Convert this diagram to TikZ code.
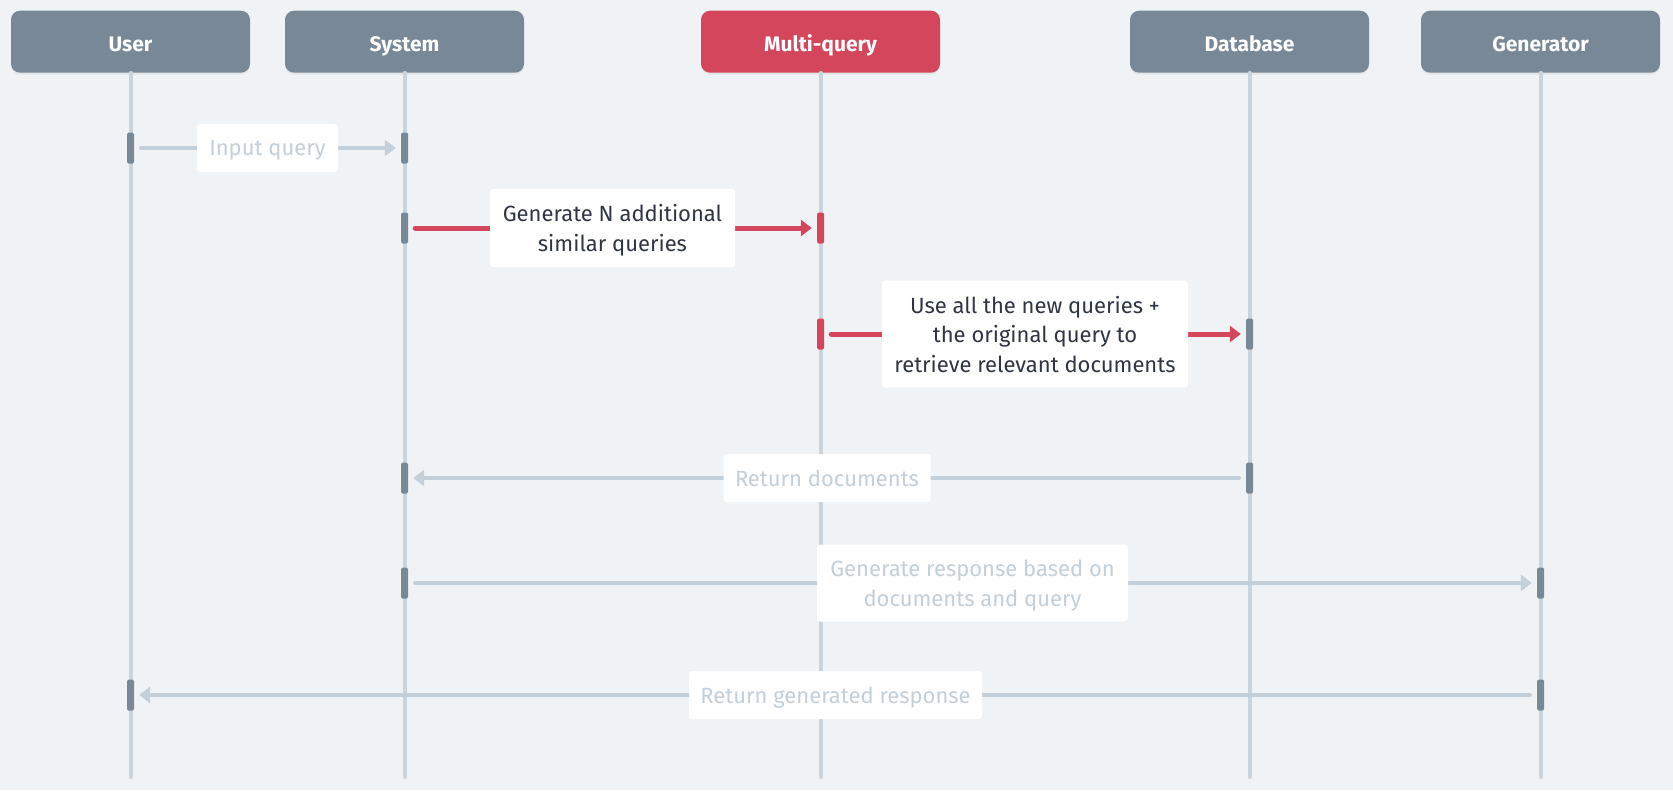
\documentclass[tikz,border=0pt]{standalone}
\usepackage{fontspec}
\setmainfont{Fira Sans}
\usetikzlibrary{arrows.meta,shadows}
\definecolor{bgc}{HTML}{F0F3F6}
\definecolor{hdrc}{HTML}{798896}
\definecolor{redc}{HTML}{D4465C}
\definecolor{lifec}{HTML}{C9D4DD}
\definecolor{garc}{HTML}{C3CFD9}
\definecolor{gtext}{HTML}{C3CFD9}
\definecolor{darkc}{HTML}{2F3542}
\begin{document}
\begin{tikzpicture}[x=1pt,y=-1pt,
  head/.style={rectangle, rounded corners=9pt, minimum width=239pt, minimum height=62pt,
    inner sep=0pt, text=white, fill=hdrc, font=\fontsize{21}{25}\selectfont\bfseries,
    text height=20pt, text depth=0pt,
    drop shadow={opacity=0.10, shadow xshift=0pt, shadow yshift=-2pt}},
  lifeline/.style={draw=lifec, line width=4pt, line cap=round},
  act/.style={rectangle, fill=hdrc, minimum width=7pt, minimum height=31pt, inner sep=0pt, rounded corners=1.5pt},
  actr/.style={act, fill=redc},
  garrow/.style={draw=garc, line width=4.5pt, line cap=round,
    -{Triangle[length=11pt,width=16pt]}, shorten <=7pt, shorten >=5pt},
  rarrow/.style={garrow, draw=redc, line width=5pt},
  glabel/.style={fill=white, rounded corners=3pt, text=gtext, align=center, inner sep=0pt,
    font=\fontsize{22}{29.5}\selectfont, text depth=0pt},
  blabel/.style={glabel, text=darkc}
]
\useasboundingbox[fill=bgc] (0,0) rectangle (1673,790);

% headers
\node[head] (U) at (130.5,41.7) {User};
\node[head] (S) at (404.5,41.7) {System};
\node[head, fill=redc] (M) at (820.5,41.7) {Multi-query};
\node[head] (D) at (1249.5,41.7) {Database};
\node[head] (G) at (1540.5,41.7) {Generator};

% lifeline ends
\coordinate (Ue) at (130.5,777);
\coordinate (Se) at (404.5,777);
\coordinate (Me) at (820.5,777);
\coordinate (De) at (1249.5,777);
\coordinate (Ge) at (1540.5,777);

\draw[lifeline] (U.south) -- (Ue);
\draw[lifeline] (S.south) -- (Se);
\draw[lifeline] (M.south) -- (Me);
\draw[lifeline] (D.south) -- (De);
\draw[lifeline] (G.south) -- (Ge);

% activations
\node[act]  (u1) at (130.5,148) {};
\node[act]  (s1) at (404.5,148) {};
\node[act]  (s2) at (404.5,228) {};
\node[actr] (m2) at (820.5,228) {};
\node[actr] (m3) at (820.5,334) {};
\node[act]  (d3) at (1249.5,334) {};
\node[act]  (s4) at (404.5,478) {};
\node[act]  (d4) at (1249.5,478) {};
\node[act]  (s5) at (404.5,583) {};
\node[act]  (g5) at (1540.5,583) {};
\node[act]  (u6) at (130.5,695) {};
\node[act]  (g6) at (1540.5,695) {};

% messages
\draw[garrow] (u1.east) -- node[glabel, minimum width=141pt, minimum height=48pt] {Input query} (s1.west);
\draw[rarrow] (s2.east) -- node[blabel, minimum width=245pt, minimum height=78pt] {Generate N additional\\similar queries} (m2.west);
\draw[rarrow] (m3.east) -- node[blabel, minimum width=306pt, minimum height=107pt] {Use all the new queries +\\the original query to\\retrieve relevant documents} (d3.west);
\draw[garrow] (d4.west) -- node[glabel, minimum width=207pt, minimum height=48pt] {Return documents} (s4.east);
\draw[garrow] (s5.east) -- node[glabel, minimum width=311pt, minimum height=77pt] {Generate response based on\\documents and query} (g5.west);
\draw[garrow] (g6.west) -- node[glabel, minimum width=293pt, minimum height=48pt] {Return generated response} (u6.east);
\end{tikzpicture}
\end{document}
